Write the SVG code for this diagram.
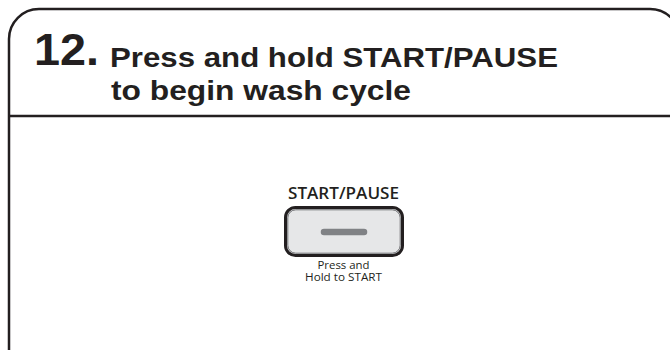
<svg xmlns="http://www.w3.org/2000/svg" width="670" height="350" viewBox="0 0 670 350">
  <style>
    .frame { fill: none; stroke: #231f20; stroke-width: 2.5; }
    .title { font-family: "Liberation Sans", Arial, sans-serif; font-weight: bold; fill: #231f20; }
    .btnlabel { font-family: "Open Sans", "Noto Sans", sans-serif; fill: #231f20; }
  </style>
  <rect width="670" height="350" fill="#ffffff"/>
  <g id="panel">
    <rect class="frame" x="9" y="9" width="671" height="400" rx="30" ry="30"/>
    <line class="frame" x1="9" y1="116" x2="670" y2="116"/>
  </g>
  <g id="heading">
    <text class="title" x="34" y="65" font-size="45" textLength="65" lengthAdjust="spacingAndGlyphs">12.</text>
    <text class="title" x="110" y="67" font-size="28" textLength="448" lengthAdjust="spacingAndGlyphs">Press and hold START/PAUSE</text>
    <text class="title" x="111" y="100" font-size="28" textLength="300" lengthAdjust="spacingAndGlyphs">to begin wash cycle</text>
  </g>
  <g id="start-pause-button">
    <text class="btnlabel" x="343.5" y="199" font-size="17" font-weight="600" text-anchor="middle" textLength="111" lengthAdjust="spacingAndGlyphs">START/PAUSE</text>
    <rect x="285.5" y="207.5" width="117" height="48" rx="10" ry="10" fill="#e6e7e8" stroke="#231f20" stroke-width="3"/>
    <rect x="287.8" y="209.8" width="112.4" height="43.4" rx="8" ry="8" fill="none" stroke="#6d6e71" stroke-width="1"/>
    <line x1="324" y1="232" x2="364" y2="232" stroke="#808285" stroke-width="6.5" stroke-linecap="round"/>
    <text class="btnlabel" x="343.5" y="268.5" font-size="10.5" text-anchor="middle" textLength="52" lengthAdjust="spacingAndGlyphs">Press and</text>
    <text class="btnlabel" x="343.5" y="281" font-size="10.5" text-anchor="middle" textLength="77" lengthAdjust="spacingAndGlyphs">Hold to START</text>
  </g>
</svg>
